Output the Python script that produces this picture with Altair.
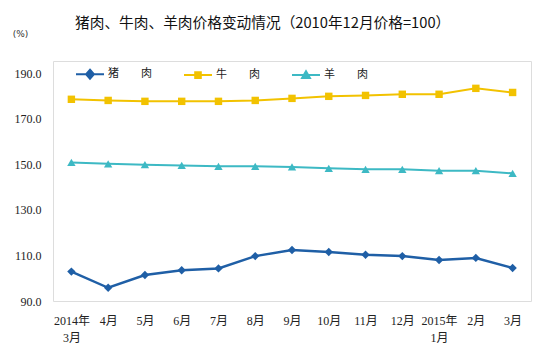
import altair as alt
import pandas as pd

months = ["2014年3月", "4月", "5月", "6月", "7月", "8月", "9月", "10月", "11月",
          "12月", "2015年1月", "2月", "3月"]
pork = [102.9, 95.8, 101.4, 103.5, 104.3, 109.7, 112.4, 111.5, 110.3, 109.7, 108.0, 108.9, 104.5]
beef = [178.5, 178.0, 177.6, 177.6, 177.6, 178.0, 178.9, 179.8, 180.2, 180.7, 180.7, 183.3, 181.5]
mutton = [150.8, 150.2, 149.8, 149.5, 149.1, 149.1, 148.8, 148.2, 147.8, 147.8, 147.2, 147.2, 146.0]

series_names = ["猪　　肉", "牛　　肉", "羊　　肉"]
series_values = [pork, beef, mutton]
series_colors = ["#1F5FA6", "#F2C200", "#3DB9C4"]
line_widths = [2.5, 2, 2]
marker_shapes = ["diamond", "square", "triangle-up"]
marker_sizes = [70, 55, 70]
legend_paths = [
    "M-1,0H1M0,-0.32L0.28,0L0,0.32L-0.28,0Z",
    "M-1,0H1M-0.2,-0.2H0.2V0.2H-0.2Z",
    "M-1,0H1M0,-0.28L0.28,0.2H-0.28Z",
]
y_ticks = [90, 110, 130, 150, 170, 190]

title_text = "猪肉、牛肉、羊肉价格变动情况（2010年12月价格=100）"
unit_text = "(%)"

rows = []
for name, vals in zip(series_names, series_values):
    for m, v in zip(months, vals):
        rows.append({"month": m, "value": v, "series": name})
df = pd.DataFrame(rows)

legend_df = pd.DataFrame({"series": series_names, "month": [months[0]] * 3, "value": [0, 0, 0]})

FONT = "Liberation Serif, Noto Sans CJK SC"

x_enc = alt.X(
    "month:N",
    sort=months,
    scale=alt.Scale(domain=months),
    axis=alt.Axis(
        title=None,
        labelAngle=0,
        domain=False,
        ticks=False,
        labelPadding=14,
        labelFont=FONT,
        labelFontSize=12,
        labelColor="#222222",
        labelLineHeight=17,
        labelBaseline="top",
        labelExpr="indexof(datum.label, '年') > 0 ? [slice(datum.label, 0, 5), slice(datum.label, 5)] : datum.label",
    ),
)
y_enc = alt.Y(
    "value:Q",
    scale=alt.Scale(domain=[90, 195.3], nice=False, zero=False),
    axis=alt.Axis(
        values=y_ticks,
        format=".1f",
        grid=False,
        ticks=False,
        domain=False,
        labelPadding=12,
        labelFont=FONT,
        labelFontSize=12,
        labelColor="#222222",
        title=unit_text,
        titleAngle=0,
        titleX=-33,
        titleY=-28,
        titleAlign="center",
        titleBaseline="middle",
        titleFontSize=9,
        titleFontWeight="normal",
        titleFont="DejaVu Sans",
        titleColor="#333333",
    ),
)

base = alt.Chart(df).encode(x=x_enc, y=y_enc)

line_layers = []
point_layers = []
for name, col, lw, shp, sz in zip(series_names, series_colors, line_widths, marker_shapes, marker_sizes):
    sub = base.transform_filter(alt.datum.series == name)
    line_layers.append(sub.mark_line(strokeWidth=lw, color=col))
    point_layers.append(sub.mark_point(shape=shp, filled=True, size=sz, color=col, opacity=1))

leg = alt.Legend(
    title=None,
    orient="none",
    legendX=22,
    legendY=-2,
    direction="horizontal",
    columns=3,
    columnPadding=28,
    symbolSize=784,
    symbolStrokeWidth=2,
    labelOffset=3,
    labelFont="Noto Sans CJK SC",
    labelFontSize=11,
    labelColor="#222222",
    padding=0,
)

legend_layer = alt.Chart(legend_df).mark_point(
    filled=True, clip=True, opacity=1, strokeWidth=2, size=784
).encode(
    x=x_enc,
    y=y_enc,
    fill=alt.Fill("series:N", scale=alt.Scale(domain=series_names, range=series_colors), legend=leg),
    stroke=alt.Stroke("series:N", scale=alt.Scale(domain=series_names, range=series_colors), legend=leg),
    shape=alt.Shape("series:N", scale=alt.Scale(domain=series_names, range=legend_paths), legend=leg),
)

chart = alt.layer(*line_layers, *point_layers, legend_layer).properties(
    width=478,
    height=240,
    autosize=alt.AutoSizeParams(type="none"),
    padding={"left": 53, "top": 61, "right": 20, "bottom": 52},
    title=alt.Title(
        title_text,
        anchor="start",
        frame="group",
        dx=22,
        offset=-2,
        font="Noto Sans CJK SC",
        fontSize=14.7,
        fontWeight="normal",
        color="#111111",
    ),
).configure_view(stroke="#C8C8C8", strokeWidth=1).configure(background="white")

chart.save("out.html", embed_options={"renderer": "svg", "actions": False})
